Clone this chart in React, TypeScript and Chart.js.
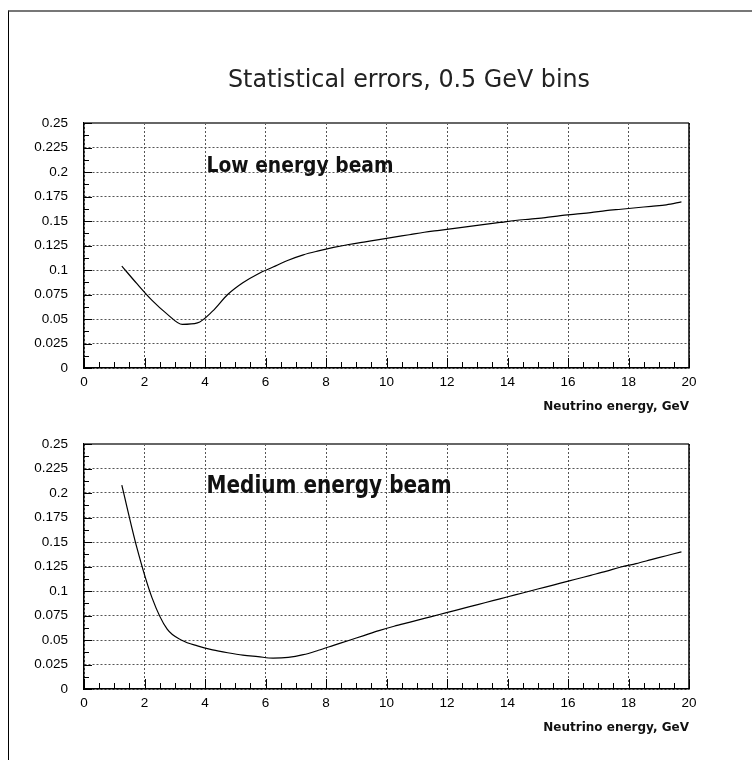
import { useEffect, useRef } from "react";
import { Chart, registerables } from "chart.js";

Chart.register(...registerables);

// Bin centres of the 0.5 GeV energy bins
const ENERGY_BINS = [
  1.25, 1.75, 2.25, 2.75, 3.25, 3.75, 4.25, 4.75, 5.25, 5.75,
  6.25, 6.75, 7.25, 7.75, 8.25, 8.75, 9.25, 9.75, 10.25, 10.75,
  11.25, 11.75, 12.25, 12.75, 13.25, 13.75, 14.25, 14.75, 15.25, 15.75,
  16.25, 16.75, 17.25, 17.75, 18.25, 18.75, 19.25, 19.75,
];

// Relative statistical error per bin, low energy beam
const LOW_BEAM_ERRORS = [
  0.104, 0.086, 0.069, 0.055, 0.0445, 0.046, 0.058, 0.075, 0.087, 0.096,
  0.103, 0.110, 0.1155, 0.1195, 0.123, 0.126, 0.1285, 0.131, 0.1335, 0.136,
  0.1385, 0.1405, 0.1425, 0.1445, 0.1465, 0.1485, 0.1505, 0.152, 0.1535, 0.1555,
  0.157, 0.1585, 0.1605, 0.162, 0.1635, 0.165, 0.1665, 0.1695,
];

// Relative statistical error per bin, medium energy beam
const MEDIUM_BEAM_ERRORS = [
  0.208, 0.144, 0.093, 0.061, 0.0495, 0.044, 0.040, 0.037, 0.0345, 0.033,
  0.0315, 0.0322, 0.035, 0.0395, 0.0445, 0.0495, 0.0545, 0.0595, 0.064, 0.068,
  0.072, 0.076, 0.080, 0.084, 0.088, 0.092, 0.096, 0.100, 0.104, 0.108,
  0.112, 0.116, 0.120, 0.1245, 0.128, 0.132, 0.136, 0.140,
];

const X_TICK_LABELS = ["0", "2", "4", "6", "8", "10", "12", "14", "16", "18", "20"];
const Y_TICK_LABELS = [
  "0", "0.025", "0.05", "0.075", "0.1", "0.125", "0.15", "0.175", "0.2", "0.225", "0.25",
];

const TITLE = "Statistical errors, 0.5 GeV bins";
const X_AXIS_TITLE = "Neutrino energy, GeV";
const LOW_LABEL = "Low energy beam";
const MEDIUM_LABEL = "Medium energy beam";

const PAGE_W = 752;
const PLOT_RIGHT = 689;
const Y_AXIS_W = 84;

type PanelProps = {
  top: number;
  height: number;
  padTop: number;
  xAxisHeight: number;
  values: number[];
  label: string;
  labelFont: string;
  labelWidth: number;
  showTitle?: boolean;
};

function Panel({ top, height, padTop, xAxisHeight, values, label, labelFont, labelWidth, showTitle }: PanelProps) {
  const ref = useRef<HTMLCanvasElement | null>(null);

  useEffect(() => {
    const canvas = ref.current;
    if (!canvas) return;

    const decor = {
      id: "panelDecor",
      afterDraw(chart: any) {
        const { ctx, chartArea: a, scales } = chart;
        const xs = scales.x;
        const ys = scales.y;
        ctx.save();

        // plot frame: gray top edge, black right edge
        ctx.strokeStyle = "#666";
        ctx.lineWidth = 2;
        ctx.beginPath();
        ctx.moveTo(a.left, a.top);
        ctx.lineTo(a.right, a.top);
        ctx.stroke();
        ctx.strokeStyle = "#000";
        ctx.lineWidth = 1.5;
        ctx.beginPath();
        ctx.moveTo(a.right, a.top);
        ctx.lineTo(a.right, a.bottom);
        ctx.stroke();

        // inward tick marks, major and minor
        ctx.lineWidth = 1;
        ctx.beginPath();
        for (let i = 0; i <= 40; i++) {
          const px = Math.round(xs.getPixelForValue(i * 0.5)) + 0.5;
          const len = i % 4 === 0 ? 10 : 6;
          ctx.moveTo(px, a.bottom);
          ctx.lineTo(px, a.bottom - len);
        }
        for (let i = 0; i <= 20; i++) {
          const py = Math.round(ys.getPixelForValue(i * 0.0125)) + 0.5;
          const len = i % 2 === 0 ? 8 : 5;
          ctx.moveTo(a.left, py);
          ctx.lineTo(a.left + len, py);
        }
        ctx.stroke();

        // beam label inside the plot
        ctx.fillStyle = "#111";
        ctx.font = labelFont;
        ctx.textAlign = "left";
        ctx.textBaseline = "alphabetic";
        ctx.fillText(label, xs.getPixelForValue(4.05), ys.getPixelForValue(0.2), labelWidth);

        // axis title under the tick labels
        ctx.font = "bold 12px 'DejaVu Sans'";
        ctx.textAlign = "right";
        ctx.fillText(X_AXIS_TITLE, a.right, a.bottom + 42, 161);

        if (showTitle) {
          ctx.font = "25px 'DejaVu Sans'";
          ctx.textAlign = "center";
          ctx.fillStyle = "#222";
          ctx.fillText(TITLE, 409, 87, 362);
        }
        ctx.restore();
      },
    };

    const chart = new Chart(canvas, {
      type: "line",
      data: {
        datasets: [
          {
            data: ENERGY_BINS.map((x, i) => ({ x, y: values[i] })),
            borderColor: "#000",
            borderWidth: 1.2,
            pointRadius: 0,
            cubicInterpolationMode: "monotone",
            fill: false,
          },
        ],
      },
      options: {
        responsive: false,
        animation: false,
        layout: { padding: { left: 0, right: PAGE_W - PLOT_RIGHT, top: padTop, bottom: 0 } },
        plugins: { legend: { display: false }, tooltip: { enabled: false } },
        scales: {
          x: {
            type: "linear",
            min: 0,
            max: 20,
            afterFit: (s: any) => {
              s.height = xAxisHeight;
            },
            ticks: {
              stepSize: 2,
              padding: 6,
              color: "#000",
              font: { family: "'Liberation Sans'", size: 13.5 },
              maxRotation: 0,
              callback: (_v: any, i: number) => X_TICK_LABELS[i],
            },
            grid: { color: "#555", lineWidth: 1, drawTicks: false },
            border: { display: true, color: "#000", width: 1.5, dash: [2, 2] },
          },
          y: {
            type: "linear",
            min: 0,
            max: 0.25,
            afterFit: (s: any) => {
              s.width = Y_AXIS_W;
            },
            ticks: {
              stepSize: 0.025,
              padding: 16,
              color: "#000",
              font: { family: "'Liberation Sans'", size: 13.5 },
              callback: (_v: any, i: number) => Y_TICK_LABELS[i],
            },
            grid: { color: "#555", lineWidth: 1, drawTicks: false },
            border: { display: true, color: "#000", width: 1.5, dash: [2, 2] },
          },
        },
      },
      plugins: [decor],
    } as any);

    return () => chart.destroy();
  }, [values, label, labelFont, labelWidth, padTop, xAxisHeight, showTitle]);

  return (
    <canvas
      ref={ref}
      width={PAGE_W}
      height={height}
      style={{ position: "absolute", left: 0, top, width: PAGE_W, height }}
    />
  );
}

export default function App() {
  return (
    <div
      style={{
        position: "absolute",
        left: 0,
        top: 0,
        width: PAGE_W,
        height: 760,
        background: "#fff",
        overflow: "hidden",
      }}
    >
      <div
        style={{
          position: "absolute",
          left: 8,
          top: 10,
          width: 800,
          height: 800,
          borderLeft: "1px solid #000",
          borderTop: "2px solid #777",
        }}
      />
      <Panel
        top={0}
        height={420}
        padTop={123}
        xAxisHeight={52}
        values={LOW_BEAM_ERRORS}
        label={LOW_LABEL}
        labelFont="bold 21px 'DejaVu Sans'"
        labelWidth={187}
        showTitle
      />
      <Panel
        top={380}
        height={380}
        padTop={64}
        xAxisHeight={71}
        values={MEDIUM_BEAM_ERRORS}
        label={MEDIUM_LABEL}
        labelFont="bold 25px 'DejaVu Sans'"
        labelWidth={245}
      />
    </div>
  );
}
